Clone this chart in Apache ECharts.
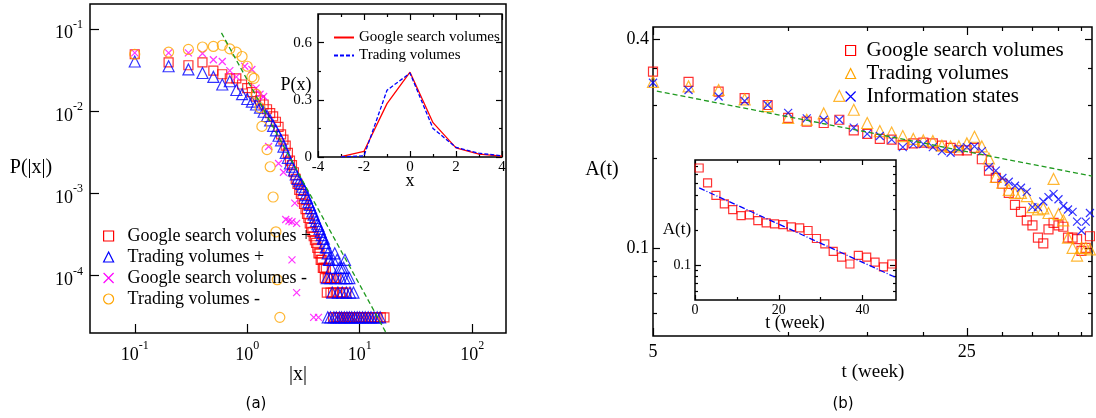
<!DOCTYPE html>
<html>
<head>
<meta charset="utf-8">
<title>Google search volumes and trading volumes</title>
<script src="https://cdn.jsdelivr.net/npm/echarts@6/dist/echarts.min.js"></script>
<style>
  html, body { margin: 0; padding: 0; background: #fff; }
  #chart { width: 1096px; height: 418px; }
</style>
</head>
<body>
<div id="chart"></div>
<script>
// ---- panel (a): distribution of |x| ----
const googleUp = [
  [0.1, 0.049], [0.2, 0.039], [0.3, 0.036], [0.4, 0.039], [0.5, 0.031], [0.6, 0.028], [0.7, 0.025], [0.8, 0.025], [0.9, 0.021], [1.0, 0.019],
  [1.1, 0.017], [1.2, 0.015], [1.3, 0.0135], [1.4, 0.012], [1.5, 0.0105], [1.6, 0.0094], [1.7, 0.0086], [1.8, 0.0074], [1.9, 0.0064], [2.0, 0.0052],
  [2.1, 0.0045], [2.2, 0.0038], [2.3, 0.0031], [2.4, 0.0025], [2.5, 0.0022], [2.6, 0.0018], [2.7, 0.0015], [2.8, 0.0013], [2.9, 0.0011], [3.0, 0.00098],
  [3.1, 0.00085], [3.2, 0.00074], [3.3, 0.00064], [3.4, 0.00056], [3.5, 0.0005], [3.6, 0.00043], [3.7, 0.00038], [3.8, 0.00034], [3.9, 0.0003], [4.0, 0.00027],
  [4.1, 0.00025], [4.2, 0.000217], [4.3, 0.000186], [4.4, 0.000186], [4.5, 0.000155], [4.6, 0.000155], [4.7, 0.000124], [4.8, 0.000124], [4.9, 0.000093], [5.0, 0.000124],
  [5.2, 0.000093], [5.4, 0.000093], [5.6, 0.000093], [5.9, 0.000093], [6.2, 0.000093],
  [5.1, 0.000062], [5.5, 0.000062], [5.8, 0.000062], [6.3, 0.000062], [6.7, 0.000062], [7.1, 0.000062], [7.6, 0.000062],
  [5.8, 0.000031], [6.1, 0.000031], [6.4, 0.000031], [6.7, 0.000031], [7.0, 0.000031], [7.3, 0.000031], [7.6, 0.000031], [7.9, 0.000031],
  [8.2, 0.000031], [8.6, 0.000031], [9.0, 0.000031], [9.4, 0.000031], [9.8, 0.000031], [10.3, 0.000031], [10.8, 0.000031], [11.4, 0.000031],
  [12.0, 0.000031], [12.7, 0.000031], [13.5, 0.000031], [14.4, 0.000031], [15.4, 0.000031], [16.6, 0.000031]
];
const tradingUp = [
  [0.1, 0.040], [0.2, 0.035], [0.3, 0.032], [0.4, 0.029], [0.5, 0.026], [0.6, 0.021], [0.7, 0.023], [0.8, 0.018], [0.9, 0.016], [1.0, 0.014],
  [1.1, 0.013], [1.2, 0.012], [1.3, 0.011], [1.4, 0.0098], [1.5, 0.0087], [1.6, 0.0077], [1.7, 0.0066], [1.8, 0.0058], [1.9, 0.005], [2.0, 0.0044],
  [2.1, 0.0037], [2.2, 0.0031], [2.3, 0.0027], [2.4, 0.0023], [2.5, 0.0021], [2.6, 0.0019], [2.7, 0.0017], [2.8, 0.0015], [2.9, 0.0014], [3.0, 0.0013],
  [3.1, 0.0012], [3.2, 0.0011], [3.3, 0.00095], [3.4, 0.00088], [3.5, 0.00078], [3.6, 0.00072], [3.7, 0.00066], [3.8, 0.0006], [3.9, 0.00055], [4.0, 0.0005],
  [4.1, 0.00046], [4.2, 0.00042], [4.3, 0.0004], [4.4, 0.00037], [4.5, 0.00034], [4.6, 0.00031], [4.7, 0.00028], [4.8, 0.00028], [4.9, 0.00025], [5.0, 0.00022],
  [5.1, 0.00022], [5.2, 0.000186], [5.3, 0.000155], [5.4, 0.000155], [5.6, 0.000124], [5.8, 0.000155], [6.0, 0.000186], [6.3, 0.000155], [6.6, 0.000124],
  [6.9, 0.000124], [7.2, 0.000124], [7.4, 0.000155],
  [5.1, 0.000093], [5.5, 0.000093], [6.1, 0.000093], [6.8, 0.000093], [7.3, 0.000093], [7.7, 0.000093], [8.1, 0.000093],
  [5.7, 0.000062], [6.4, 0.000062], [7.0, 0.000062], [7.6, 0.000062], [8.2, 0.000062], [8.8, 0.000062],
  [5.2, 0.000031], [5.5, 0.000031], [5.9, 0.000031], [6.2, 0.000031], [6.6, 0.000031], [6.9, 0.000031], [7.3, 0.000031], [7.7, 0.000031],
  [8.1, 0.000031], [8.5, 0.000031], [9.0, 0.000031], [9.5, 0.000031], [10.0, 0.000031], [10.6, 0.000031], [11.2, 0.000031], [11.9, 0.000031],
  [12.6, 0.000031], [13.4, 0.000031], [14.3, 0.000031], [15.2, 0.000031]
];
const googleDown = [
  [0.1, 0.051], [0.2, 0.051], [0.3, 0.051], [0.4, 0.05], [0.5, 0.042], [0.6, 0.040], [0.7, 0.031], [0.8, 0.026], [0.95, 0.035], [1.1, 0.032],
  [1.2, 0.019], [1.3, 0.016], [1.4, 0.015], [1.55, 0.0037], [1.9, 0.0023], [2.1, 0.0018], [2.2, 0.00048], [2.35, 0.00046], [2.5, 0.00045],
  [2.65, 0.00076], [2.75, 0.00043], [2.5, 0.000155], [2.75, 0.000062], [3.9, 0.000031], [4.3, 0.000031]
];
const tradingDown = [
  [0.1, 0.049], [0.2, 0.052], [0.3, 0.056], [0.4, 0.06], [0.5, 0.061], [0.6, 0.063], [0.7, 0.057], [0.8, 0.052], [0.9, 0.046], [1.0, 0.035],
  [1.1, 0.026], [1.15, 0.025], [1.2, 0.016], [1.3, 0.011], [1.35, 0.0065], [1.5, 0.0034], [1.6, 0.0021], [1.7, 0.0009], [1.8, 0.00034],
  [1.85, 0.000089], [1.95, 0.000031]
];
const powerLaw = [[0.59, 0.089], [17.2, 0.00002]];

// ---- panel (a) inset: P(x) ----
const insetX = [-3, -2, -1, 0, 1, 2, 3, 4];
const insetGoogle = [0.002, 0.03, 0.28, 0.445, 0.18, 0.048, 0.015, 0.005];
const insetTrading = [0.001, 0.006, 0.35, 0.44, 0.15, 0.05, 0.02, 0.006];

// ---- panel (b): A(t) per week ----
const weeks = [5, 6, 7, 8, 9, 10, 11, 12, 13, 14, 15, 16, 17, 18, 19, 20, 21, 22, 23, 24, 25, 26,
  27, 28, 29, 30, 31, 32, 33, 34, 35, 36, 37, 38, 39, 40, 41, 42, 43, 44, 45, 46, 47];
const googleA = [0.322, 0.301, 0.282, 0.270, 0.258, 0.237, 0.231, 0.229, 0.234, 0.218, 0.213, 0.206, 0.205, 0.198, 0.200, 0.201, 0.200, 0.197, 0.194, 0.191, 0.191, 0.194,
  0.180, 0.167, 0.159, 0.153, 0.144, 0.133, 0.127, 0.120, 0.116, 0.107, 0.103, 0.113, 0.118, 0.116, 0.115, 0.107, 0.107, 0.106, 0.098, 0.100, 0.108];
const tradingA = [0.301, 0.292, 0.285, 0.268, 0.256, 0.237, 0.234, 0.244, 0.274, 0.250, 0.229, 0.217, 0.215, 0.210, 0.206, 0.204, 0.203, 0.197, 0.196, 0.196, 0.200, 0.209,
  0.196, 0.181, 0.160, 0.154, 0.147, 0.144, 0.144, 0.141, 0.131, 0.129, 0.130, 0.126, 0.158, 0.125, 0.120, 0.107, 0.100, 0.095, 0.100, 0.100, 0.099];
const infoA = [0.299, 0.285, 0.273, 0.265, 0.258, 0.245, 0.236, 0.234, 0.234, 0.222, 0.213, 0.210, 0.205, 0.195, 0.199, 0.199, 0.195, 0.190, 0.188, 0.193, 0.195, 0.196,
  0.190, 0.171, 0.167, 0.159, 0.155, 0.151, 0.149, 0.145, 0.131, 0.131, 0.136, 0.140, 0.143, 0.138, 0.132, 0.129, 0.127, 0.119, 0.112, 0.119, 0.126];
const decayFit = [[5.1, 0.283], [47.5, 0.161]];

// ---- panel (b) inset ----
const insetWeeks = [1, 3, 5, 7, 9, 11, 13, 15, 17, 19, 21, 23, 25, 27, 29, 31, 33, 35, 37, 39, 41, 43, 45, 47];
const insetA = [0.683, 0.508, 0.397, 0.335, 0.299, 0.266, 0.27, 0.241, 0.230, 0.226, 0.2225, 0.213,
  0.209, 0.198, 0.169, 0.152, 0.131, 0.117, 0.102, 0.121, 0.117, 0.106, 0.0965, 0.102];
const insetFit = [[1, 0.46], [48, 0.078]];

// ---- tick values ----
const aXTicks = [0.1, 1, 10, 100];
const aYTicks = [0.0001, 0.001, 0.01, 0.1];
const inXMajor = [-4, -2, 0, 2, 4];
const inXMinor = [-3, -1, 1, 3];
const inYMajor = [0, 0.3, 0.6];
const inYMinor = [0.15, 0.45];
const bXMajor = [5, 25];
const bXMinor = [10, 15, 20, 30, 35, 40, 45];
const bYMajor = [0.1, 0.4];
const bYMinor = [0.0649, 0.0741, 0.083, 0.0917, 0.181, 0.258, 0.33];
const ibXMajor = [0, 20, 40];
const ibXMinor = [10, 30];
const ibYMajor = [0.1];
const ibYMinor = [0.06, 0.07, 0.08, 0.09, 0.2, 0.3, 0.4, 0.5, 0.6, 0.7];

const SERIF = "'Liberation Serif', 'Times New Roman', serif";
const RED = "#ff0000", BLUE = "#0000ff", MAGENTA = "#ff00ff", ORANGE = "#ffa500", GREEN = "#1f9a1f";
const CROSS = "path://M0,0L10,10M0,10L10,0";
const CLEAR = "rgba(0,0,0,0)";

function tickAxis(o) {
  return {
    type: o.type,
    gridIndex: o.grid,
    position: o.pos,
    min: o.min,
    max: o.max,
    logBase: 10,
    silent: true,
    axisLine: { show: false, onZero: false },
    splitLine: { show: false },
    axisTick: {
      show: true,
      inside: true,
      length: o.len,
      customValues: o.ticks,
      lineStyle: { color: "#000", width: 1.2 }
    },
    axisLabel: o.label
      ? Object.assign({ show: true, customValues: o.ticks, color: "#000", fontFamily: SERIF }, o.label)
      : { show: false }
  };
}

// major axis (with labels) on first side, plus minor ticks and mirrored sides
function axesFor(grid, type, min, max, major, minor, sides, label, lenMajor, lenMinor) {
  const list = [];
  sides.forEach((pos, i) => {
    list.push(tickAxis({ grid, type, min, max, pos, ticks: major, len: lenMajor, label: i === 0 ? label : null }));
    if (minor) list.push(tickAxis({ grid, type, min, max, pos, ticks: minor, len: lenMinor }));
  });
  return list;
}

const powerRich = {
  b: { fontFamily: SERIF, fontSize: 18, color: "#000" },
  s: { fontFamily: SERIF, fontSize: 12, color: "#000", padding: [0, 0, 18, 0] }
};
const powerLabel = (v) => "{b|10}{s|" + Math.round(Math.log10(v)) + "}";

const xAxis = [].concat(
  axesFor(0, "log", 0.04, 200, aXTicks, null, ["bottom"],
    { margin: 7, formatter: powerLabel, rich: powerRich }, 9),
  axesFor(1, "value", -4, 4, inXMajor, inXMinor, ["bottom", "top"],
    { margin: 3, fontSize: 15, formatter: (v) => String(v) }, 6, 3),
  axesFor(2, "log", 5, 47.5, bXMajor, bXMinor, ["bottom", "top"],
    { margin: 7, fontSize: 18, formatter: (v) => String(Math.round(v)) }, 8, 4),
  axesFor(3, "value", 0, 48, ibXMajor, ibXMinor, ["bottom", "top"],
    { margin: 3, fontSize: 14, formatter: (v) => String(v) }, 5, 3)
);

const yAxis = [].concat(
  axesFor(0, "log", 0.00002, 0.2, aYTicks, null, ["left"],
    { margin: 7, padding: [10, 0, 0, 0], formatter: powerLabel, rich: powerRich }, 9),
  axesFor(1, "value", 0, 0.75, inYMajor, inYMinor, ["left", "right"],
    { margin: 6, fontSize: 15, formatter: (v) => (v === 0 ? "0" : v.toFixed(1)) }, 6, 3),
  axesFor(2, "log", 0.0557, 0.433, bYMajor, bYMinor, ["left", "right"],
    { margin: 4, fontSize: 18, formatter: (v) => v.toFixed(1) }, 7, 4),
  axesFor(3, "log", 0.05, 0.8, ibYMajor, ibYMinor, ["left", "right"],
    { margin: 4, fontSize: 14, formatter: (v) => v.toFixed(1) }, 6, 3)
);

function frame(left, top, width, height) {
  return {
    left, top, width, height,
    containLabel: false,
    outerBoundsMode: "none",
    show: true,
    backgroundColor: "#fff",
    borderColor: "#000",
    borderWidth: 1.5
  };
}

function hollow(name, data, symbol, size, color, xi, yi) {
  return {
    type: "scatter",
    name,
    data,
    symbol,
    symbolSize: size,
    xAxisIndex: xi,
    yAxisIndex: yi,
    silent: true,
    itemStyle: { color: CLEAR, borderColor: color, borderWidth: 1.2 }
  };
}

function line(name, data, color, type, xi, yi) {
  return {
    type: "line",
    name,
    data,
    symbol: "none",
    xAxisIndex: xi,
    yAxisIndex: yi,
    silent: true,
    itemStyle: { color: CLEAR, borderColor: CLEAR, borderWidth: 0 },
    lineStyle: { color, width: 1.3, type }
  };
}

// legend entry with an explicit hollow marker
function key(name, icon, color) {
  return { name, icon, itemStyle: { color: CLEAR, borderColor: color, borderWidth: 1.2, opacity: 1 } };
}

const pair = (xs, ys) => xs.map((x, i) => [x, ys[i]]);

function label(text, x, y, size, family) {
  return {
    type: "text",
    x,
    y,
    silent: true,
    style: {
      text,
      fill: "#000",
      font: size + "px " + (family || SERIF),
      align: "center",
      verticalAlign: "middle"
    }
  };
}

const chart = echarts.init(document.getElementById("chart"), null, { renderer: "canvas" });

chart.setOption({
  animation: false,
  backgroundColor: "#fff",
  grid: [
    frame(90, 4, 416, 329),
    frame(318, 14, 184, 143),
    frame(653, 27, 439, 309),
    frame(695, 160, 201, 140)
  ],
  xAxis,
  yAxis,
  legend: [
    {
      orient: "vertical",
      left: 98,
      top: 222,
      itemWidth: 10,
      itemHeight: 10,
      itemGap: 3,
      selectedMode: false,
      data: [
        key("Google search volumes +", "rect", RED),
        key("Trading volumes +", "triangle", BLUE),
        key("Google search volumes -", CROSS, MAGENTA),
        key("Trading volumes -", "circle", ORANGE)
      ],
      textStyle: { fontFamily: SERIF, fontSize: 18, lineHeight: 18, color: "#000", padding: [0, 0, 0, 9] }
    },
    {
      orient: "vertical",
      left: 328,
      top: 25,
      itemWidth: 20,
      itemHeight: 10,
      itemGap: 3,
      selectedMode: false,
      data: ["Google search volumes (inset)", "Trading volumes (inset)"],
      formatter: (name) => name.replace(" (inset)", ""),
      itemStyle: { color: CLEAR, borderColor: CLEAR, borderWidth: 0 },
      textStyle: { fontFamily: SERIF, fontSize: 15, lineHeight: 15, color: "#000" }
    },
    {
      orient: "vertical",
      left: 840,
      top: 35,
      itemWidth: 10,
      itemHeight: 10,
      itemGap: 2,
      selectedMode: false,
      data: [
        key("Google search volumes", "rect", RED),
        key("Trading volumes", "triangle", ORANGE),
        key("Information states", CROSS, BLUE)
      ],
      textStyle: { fontFamily: SERIF, fontSize: 21, lineHeight: 21, color: "#000", padding: [0, 0, 0, 6] }
    }
  ],
  series: [
    line("fit a", powerLaw, GREEN, [5, 3], 0, 0),
    hollow("Google search volumes +", googleUp, "rect", 9, RED, 0, 0),
    hollow("Trading volumes +", tradingUp, "triangle", 11, BLUE, 0, 0),
    hollow("Google search volumes -", googleDown, CROSS, 7, MAGENTA, 0, 0),
    hollow("Trading volumes -", tradingDown, "circle", 10, ORANGE, 0, 0),

    line("Google search volumes (inset)", pair(insetX, insetGoogle), RED, "solid", 1, 1),
    line("Trading volumes (inset)", pair(insetX, insetTrading), BLUE, [4, 2], 1, 1),

    line("fit b", decayFit, GREEN, [5, 3], 5, 5),
    hollow("Google search volumes", pair(weeks, googleA), "rect", 9, RED, 5, 5),
    hollow("Trading volumes", pair(weeks, tradingA), "triangle", 11, ORANGE, 5, 5),
    hollow("Information states", pair(weeks, infoA), CROSS, 8, BLUE, 5, 5),

    line("fit b inset", insetFit, BLUE, [6, 2, 1, 2], 9, 9),
    hollow("A(t) inset", pair(insetWeeks, insetA), "rect", 8, RED, 9, 9)
  ],
  graphic: [
    label("P(|x|)", 31, 168, 20),
    label("|x|", 298, 375, 20),
    label("(a)", 256, 404, 15, "'DejaVu Sans', sans-serif"),
    label("P(x)", 296, 85, 18),
    label("x", 410, 181, 18),
    label("A(t)", 602, 170, 20),
    label("t (week)", 873, 372, 19),
    label("(b)", 843, 404, 15, "'DejaVu Sans', sans-serif"),
    label("A(t)", 677, 230, 17),
    label("t (week)", 795, 323, 18)
  ]
});

window.addEventListener("resize", () => chart.resize());
</script>
</body>
</html>
